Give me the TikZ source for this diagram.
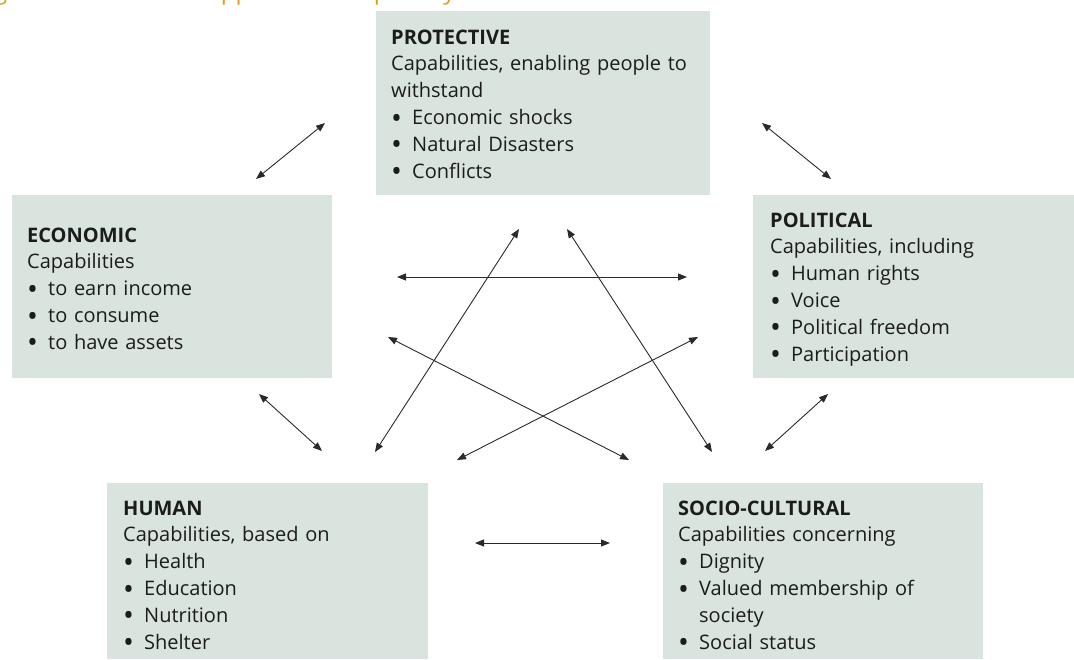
\documentclass[tikz,border=0pt]{standalone}
\usepackage{fontspec}
\setmainfont{Open Sans}
\usetikzlibrary{arrows.meta}
\definecolor{boxfill}{HTML}{D9E4DE}
\definecolor{txt}{HTML}{1C1C1C}
\definecolor{captioncol}{HTML}{D9A21B}
\definecolor{arr}{HTML}{2A2A2A}
\newcommand{\bul}{\makebox[21pt][l]{\raisebox{-3.6pt}{\scalebox{1.45}{\textbullet}}}}
\tikzset{
  capbox/.style={fill=boxfill, draw=none, anchor=north west, inner sep=0pt},
  captext/.style={anchor=base west, inner sep=0pt, text width=330pt, align=left,
    font=\fontsize{20}{26.8}\selectfont, text=txt},
  link/.style={draw=arr, line width=0.9pt,
    {Triangle[length=9pt,width=7pt]}-{Triangle[length=9pt,width=7pt]}},
}
\begin{document}
\begin{tikzpicture}[x=1pt,y=-1pt]
\useasboundingbox (0,0) rectangle (1074,659);
% caption (cut off at the top edge)
\begin{scope}
\clip (0,0) rectangle (1074,10);
\node[anchor=base west, inner sep=0pt, text=captioncol, font=\fontsize{24}{28}\selectfont] (cap) at (-6,-1) {g at the interactive approach to capability};
\end{scope}
% boxes
\node[capbox, minimum width=334pt, minimum height=184pt] (prot) at (376,11) {};
\node[capbox, minimum width=320pt, minimum height=183pt] (econ) at (12,195) {};
\node[capbox, minimum width=321pt, minimum height=183pt] (pol) at (753,195) {};
\node[capbox, minimum width=321pt, minimum height=176pt] (hum) at (107,483) {};
\node[capbox, minimum width=320pt, minimum height=176pt] (soc) at (663,483) {};
% texts
\node[captext] (prot-t) at (391,44) {{\bfseries PROTECTIVE}\\
Capabilities, enabling people to\\
withstand\\
\bul Economic shocks\\
\bul Natural Disasters\\
\bul Conflicts};
\node[captext] (econ-t) at (27,242) {{\bfseries ECONOMIC}\\
Capabilities\\
\bul to earn income\\
\bul to consume\\
\bul to have assets};
\node[captext] (pol-t) at (770,227) {{\bfseries POLITICAL}\\
Capabilities, including\\
\bul Human rights\\
\bul Voice\\
\bul Political freedom\\
\bul Participation};
\node[captext] (hum-t) at (123,515) {{\bfseries HUMAN}\\
Capabilities, based on\\
\bul Health\\
\bul Education\\
\bul Nutrition\\
\bul Shelter};
\node[captext] (soc-t) at (678,515) {{\bfseries SOCIO-CULTURAL}\\
Capabilities concerning\\
\bul Dignity\\
\bul Valued membership of\\
\hspace*{21pt}society\\
\bul Social status};
% arrow end points
\coordinate (pe1) at (325,123); \coordinate (pe2) at (256,179);
\coordinate (pp1) at (762,123); \coordinate (pp2) at (831,179);
\coordinate (eh1) at (259,394); \coordinate (eh2) at (322,451);
\coordinate (ps1) at (828,394); \coordinate (ps2) at (765,451);
\coordinate (hs1) at (475,543); \coordinate (hs2) at (610,543);
\coordinate (ep1) at (397,277); \coordinate (ep2) at (687,277);
\coordinate (hp1) at (375,452); \coordinate (hp2) at (519,229);
\coordinate (sp1) at (712,452); \coordinate (sp2) at (567,229);
\coordinate (es1) at (388,337); \coordinate (es2) at (629,460);
\coordinate (hl1) at (457,460); \coordinate (hl2) at (698,337);
% arrows
\draw[link] (pe1) -- (pe2);
\draw[link] (pp1) -- (pp2);
\draw[link] (eh1) -- (eh2);
\draw[link] (ps1) -- (ps2);
\draw[link] (hs1) -- (hs2);
\draw[link] (ep1) -- (ep2);
\draw[link] (hp1) -- (hp2);
\draw[link] (sp1) -- (sp2);
\draw[link] (es1) -- (es2);
\draw[link] (hl1) -- (hl2);
\end{tikzpicture}
\end{document}
